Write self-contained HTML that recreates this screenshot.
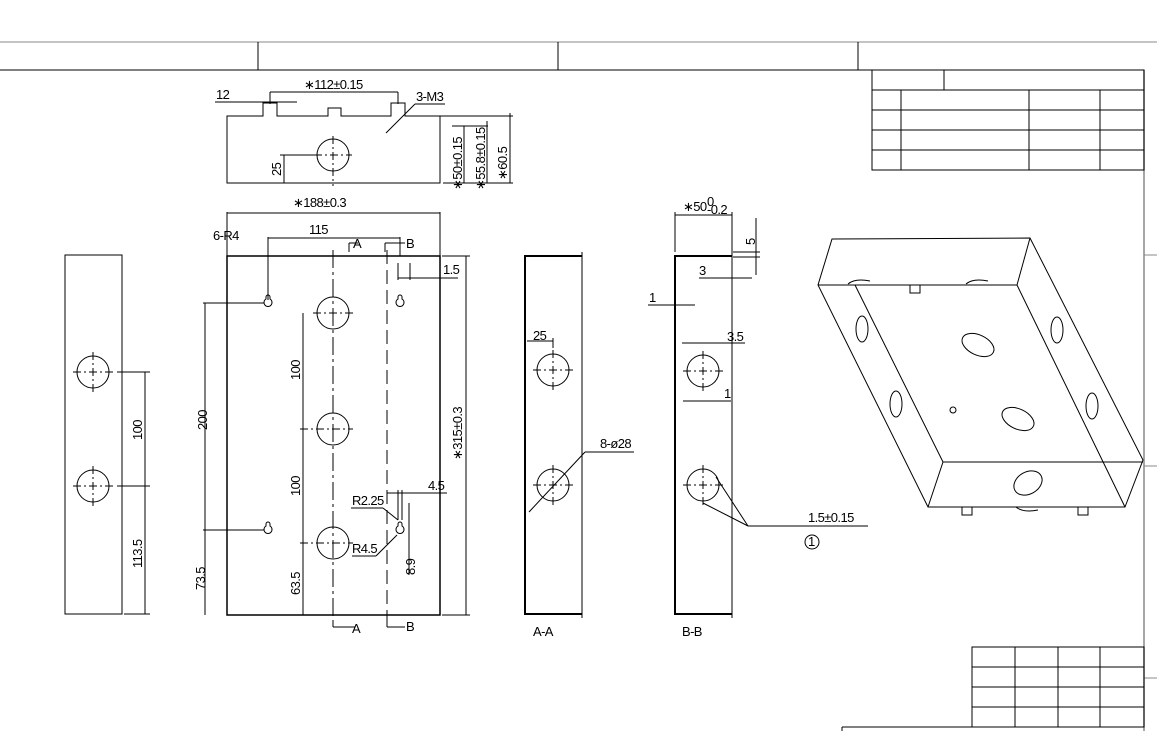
<!DOCTYPE html>
<html><head><meta charset="utf-8"><style>
html,body{margin:0;padding:0;background:#fff;width:1157px;height:731px;overflow:hidden}
svg{display:block}
text{font-family:"Liberation Sans",sans-serif;font-size:13px;letter-spacing:-0.6px;fill:#000}
</style></head><body>
<svg width="1157" height="731" viewBox="0 0 1157 731" xmlns="http://www.w3.org/2000/svg">
<g stroke="#000" fill="none" stroke-width="1">
<!-- frame -->
<line x1="0" y1="42" x2="1157" y2="42" stroke="#888"/>
<line x1="0" y1="70" x2="872" y2="70"/>
<line x1="258" y1="42" x2="258" y2="70"/>
<line x1="558" y1="42" x2="558" y2="70"/>
<line x1="858" y1="42" x2="858" y2="70"/>
<line x1="1144" y1="70" x2="1144" y2="731" stroke="#888" stroke-width="1.5"/>
<line x1="1144" y1="255" x2="1157" y2="255" stroke="#888"/>
<line x1="1144" y1="466" x2="1157" y2="466" stroke="#888"/>
<line x1="1144" y1="678" x2="1157" y2="678" stroke="#888"/>
<!-- top-right table -->
<rect x="872" y="70" width="272" height="100"/>
<line x1="944" y1="70" x2="944" y2="90"/>
<line x1="872" y1="90" x2="1144" y2="90"/><line x1="872" y1="110" x2="1144" y2="110"/>
<line x1="872" y1="130" x2="1144" y2="130"/><line x1="872" y1="150" x2="1144" y2="150"/>
<line x1="901" y1="90" x2="901" y2="170"/><line x1="1029" y1="90" x2="1029" y2="170"/><line x1="1100" y1="90" x2="1100" y2="170"/>
<!-- bottom table -->
<rect x="972" y="647" width="172" height="80"/>
<line x1="972" y1="667" x2="1144" y2="667"/><line x1="972" y1="687" x2="1144" y2="687"/><line x1="972" y1="707" x2="1144" y2="707"/>
<line x1="1015" y1="647" x2="1015" y2="727"/><line x1="1058" y1="647" x2="1058" y2="727"/><line x1="1100" y1="647" x2="1100" y2="727"/>
<line x1="842" y1="727" x2="1144" y2="727"/><line x1="842" y1="727" x2="842" y2="731"/>

<!-- top view -->
<path d="M227 116 H263 V103 H277 V116 H328 V108 H341 V116 H391 V103 H405 V116 H440 V183 H227 Z"/>
<circle cx="333" cy="155" r="16"/>
<line x1="314" y1="155" x2="352" y2="155" stroke-dasharray="8 3 2 3"/>
<line x1="333" y1="136" x2="333" y2="186" stroke-dasharray="8 3 2 3"/>
<line x1="270" y1="92" x2="270" y2="104"/><line x1="398" y1="92" x2="398" y2="104"/>
<line x1="270" y1="92" x2="398" y2="92"/>
<line x1="215" y1="102" x2="297" y2="102"/>
<line x1="386" y1="133" x2="415" y2="104"/><line x1="415" y1="104" x2="445" y2="104"/>
<line x1="443" y1="183" x2="513" y2="183"/>
<line x1="405" y1="116" x2="513" y2="116"/><line x1="452" y1="126" x2="488" y2="126"/>
<line x1="464" y1="126" x2="464" y2="183"/><line x1="487" y1="121" x2="487" y2="183"/><line x1="510" y1="113" x2="510" y2="183"/>
<line x1="284" y1="155" x2="284" y2="183"/><line x1="280" y1="155" x2="318" y2="155"/>

<!-- front view -->
<rect x="227" y="256" width="213" height="359" stroke-width="1.5"/>
<line x1="227" y1="212" x2="227" y2="256"/><line x1="440" y1="212" x2="440" y2="256"/>
<line x1="227" y1="213" x2="440" y2="213"/>
<line x1="268" y1="237" x2="268" y2="300"/><line x1="400" y1="237" x2="400" y2="256"/>
<line x1="268" y1="238" x2="400" y2="238"/>
<line x1="333" y1="250" x2="333" y2="625" stroke-dasharray="18 4 3 4"/>
<line x1="387" y1="250" x2="387" y2="625" stroke-dasharray="14 6"/>
<circle cx="333" cy="313" r="16"/><circle cx="333" cy="429" r="16"/><circle cx="333" cy="543" r="16"/>
<line x1="313" y1="313" x2="353" y2="313" stroke-dasharray="8 3 2 3"/>
<line x1="300" y1="429" x2="353" y2="429" stroke-dasharray="8 3 2 3"/>
<line x1="300" y1="543" x2="353" y2="543" stroke-dasharray="8 3 2 3"/>
<g>
<path d="M266 297 a2 2 0 0 1 4 0 v2 a4 4 0 1 1 -4 0 Z"/>
<path d="M398 297 a2 2 0 0 1 4 0 v2 a4 4 0 1 1 -4 0 Z"/>
<path d="M266 524 a2 2 0 0 1 4 0 v2 a4 4 0 1 1 -4 0 Z"/>
<path d="M398 524 a2 2 0 0 1 4 0 v2 a4 4 0 1 1 -4 0 Z"/>
</g>
<line x1="203" y1="303" x2="264" y2="303"/><line x1="203" y1="530" x2="264" y2="530"/>
<line x1="205" y1="303" x2="205" y2="615"/>
<line x1="303" y1="313" x2="303" y2="615"/>
<line x1="442" y1="256" x2="470" y2="256"/><line x1="442" y1="615" x2="470" y2="615"/>
<line x1="466" y1="256" x2="466" y2="615"/>
<line x1="398" y1="278" x2="458" y2="278"/><line x1="398" y1="263" x2="398" y2="280"/><line x1="410" y1="263" x2="410" y2="280"/>
<line x1="387" y1="493" x2="447" y2="493"/><line x1="398" y1="490" x2="398" y2="520"/><line x1="402" y1="490" x2="402" y2="520"/>
<line x1="351" y1="508" x2="383" y2="508"/><line x1="383" y1="508" x2="398" y2="520"/>
<line x1="352" y1="556" x2="376" y2="556"/><line x1="376" y1="556" x2="397" y2="535"/>
<line x1="409" y1="503" x2="409" y2="575"/>
<line x1="349" y1="252" x2="349" y2="243"/><line x1="349" y1="243" x2="358" y2="243"/>
<line x1="385" y1="252" x2="385" y2="243"/><line x1="385" y1="243" x2="405" y2="243"/>
<line x1="333" y1="622" x2="333" y2="627"/><line x1="333" y1="627" x2="355" y2="627"/>
<line x1="387" y1="622" x2="387" y2="627"/><line x1="387" y1="627" x2="405" y2="627"/>

<!-- left view -->
<rect x="65" y="255" width="57" height="359"/>
<circle cx="93" cy="372" r="16"/><circle cx="93" cy="486" r="16"/>
<line x1="73" y1="372" x2="113" y2="372" stroke-dasharray="8 3 2 3"/><line x1="93" y1="352" x2="93" y2="392" stroke-dasharray="8 3 2 3"/>
<line x1="73" y1="486" x2="113" y2="486" stroke-dasharray="8 3 2 3"/><line x1="93" y1="466" x2="93" y2="506" stroke-dasharray="8 3 2 3"/>
<line x1="117" y1="372" x2="150" y2="372"/><line x1="117" y1="486" x2="150" y2="486"/><line x1="124" y1="614" x2="150" y2="614"/>
<line x1="145" y1="372" x2="145" y2="614"/>

<!-- A-A -->
<path d="M582 256 H525 V614 H582" stroke-width="2"/>
<line x1="582" y1="252" x2="582" y2="618"/>
<circle cx="553" cy="370" r="16"/><circle cx="553" cy="485" r="16"/>
<line x1="533" y1="370" x2="573" y2="370" stroke-dasharray="8 3 2 3"/><line x1="553" y1="350" x2="553" y2="390" stroke-dasharray="8 3 2 3"/>
<line x1="533" y1="485" x2="573" y2="485" stroke-dasharray="8 3 2 3"/><line x1="553" y1="465" x2="553" y2="505" stroke-dasharray="8 3 2 3"/>
<line x1="527" y1="341" x2="553" y2="341"/><line x1="553" y1="338" x2="553" y2="348"/>
<line x1="529" y1="512" x2="585" y2="452"/><line x1="585" y1="452" x2="634" y2="452"/>

<!-- B-B -->
<path d="M732 256 H675 V614 H732" stroke-width="2"/>
<line x1="732" y1="252" x2="732" y2="618"/>
<circle cx="703" cy="371" r="16"/><circle cx="703" cy="485" r="16"/>
<line x1="683" y1="371" x2="723" y2="371" stroke-dasharray="8 3 2 3"/><line x1="703" y1="351" x2="703" y2="391" stroke-dasharray="8 3 2 3"/>
<line x1="683" y1="485" x2="723" y2="485" stroke-dasharray="8 3 2 3"/><line x1="703" y1="465" x2="703" y2="505" stroke-dasharray="8 3 2 3"/>
<line x1="675" y1="212" x2="675" y2="252"/><line x1="732" y1="212" x2="732" y2="252"/>
<line x1="675" y1="215" x2="732" y2="215"/>
<line x1="733" y1="252" x2="760" y2="252"/><line x1="733" y1="257" x2="760" y2="257"/><line x1="756" y1="218" x2="756" y2="275"/>
<line x1="699" y1="278" x2="752" y2="278"/>
<line x1="648" y1="305" x2="695" y2="305"/>
<line x1="682" y1="343" x2="745" y2="343"/>
<line x1="683" y1="401" x2="731" y2="401"/>
<line x1="703" y1="503" x2="748" y2="526"/><line x1="716" y1="477" x2="748" y2="526"/><line x1="748" y1="526" x2="868" y2="526"/>
<circle cx="812" cy="542" r="7"/>

<!-- iso box -->
<path d="M832 239 L1030 238 L1143 460 L1125 507 L928 507 L818 285 Z"/>
<path d="M818 285 L1017 285 L1125 507"/>
<path d="M1017 285 L1030 238"/>
<path d="M855 285 L943 462 L1143 462"/>
<path d="M943 462 L928 507"/>
<ellipse cx="978" cy="345" rx="17" ry="10" transform="rotate(25 978 345)"/>
<ellipse cx="1018" cy="419" rx="17" ry="10" transform="rotate(25 1018 419)"/>
<ellipse cx="1028" cy="483" rx="15" ry="11" transform="rotate(-30 1028 483)"/>
<ellipse cx="862" cy="329" rx="6" ry="13"/><ellipse cx="896" cy="404" rx="6" ry="13"/>
<ellipse cx="1057" cy="330" rx="6" ry="13"/><ellipse cx="1092" cy="406" rx="6" ry="13"/>
<path d="M910 285 v8 h10 v-8"/><path d="M962 507 v8 h10 v-8"/><path d="M1078 507 v8 h10 v-8"/>
<path d="M848 284 q7 -6 22 -3"/><path d="M966 284 q7 -6 22 -3"/><path d="M1016 507 q7 6 22 3"/>
<circle cx="953" cy="410" r="3"/>
</g>
<g>
<text x="216" y="99">12</text>
<text x="304" y="89">∗112±0.15</text>
<text x="416" y="101">3-M3</text>
<text x="293" y="207">∗188±0.3</text>
<text x="213" y="240">6-R4</text>
<text x="309" y="234">115</text>
<text x="353" y="248" font-size="10">A</text><text x="406" y="248" font-size="10">B</text>
<text x="443" y="274">1.5</text>
<text x="352" y="505">R2.25</text>
<text x="352" y="553">R4.5</text>
<text x="428" y="490">4.5</text>
<text x="600" y="448">8-ø28</text>
<text x="533" y="340">25</text>
<text x="683" y="211">∗50</text><text x="707" y="206" font-size="8">0</text><text x="707" y="214" font-size="8">-0.2</text>
<text x="699" y="275">3</text><text x="649" y="302">1</text>
<text x="727" y="341">3.5</text><text x="724" y="398">1</text>
<text x="808" y="522" font-size="10" fill="#666">1.5±0.15</text>
<text x="808" y="546" font-size="10">1</text>
<text x="533" y="636" font-size="10" fill="#666">A-A</text>
<text x="682" y="636" font-size="10" fill="#666">B-B</text>
<text x="352" y="633" font-size="10">A</text><text x="406" y="631" font-size="10">B</text>
<text transform="translate(281 176) rotate(-90)">25</text>
<text transform="translate(462 190) rotate(-90)">∗50±0.15</text>
<text transform="translate(485 190) rotate(-90)">∗55.8±0.15</text>
<text transform="translate(507 180) rotate(-90)">∗60.5</text>
<text transform="translate(755 245) rotate(-90)">5</text>
<text transform="translate(462 460) rotate(-90)">∗315±0.3</text>
<text transform="translate(207 430) rotate(-90)">200</text>
<text transform="translate(205 590) rotate(-90)">73.5</text>
<text transform="translate(300 380) rotate(-90)">100</text>
<text transform="translate(300 496) rotate(-90)">100</text>
<text transform="translate(300 595) rotate(-90)">63.5</text>
<text transform="translate(415 575) rotate(-90)">8.9</text>
<text transform="translate(142 440) rotate(-90)">100</text>
<text transform="translate(142 568) rotate(-90)">113.5</text>
</g>
</svg>
</body></html>
